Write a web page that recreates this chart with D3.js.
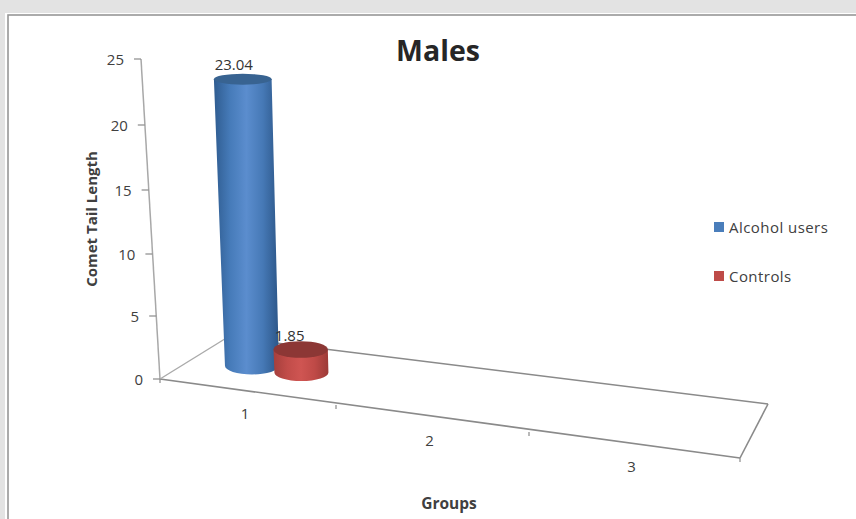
<!DOCTYPE html>
<html>
<head>
<meta charset="utf-8">
<script src="https://cdn.jsdelivr.net/npm/d3@7/dist/d3.min.js"></script>
<style>
  html, body { margin: 0; padding: 0; background: #e3e3e3; }
  svg { display: block; }
  text { font-family: "Open Sans", "DejaVu Sans", sans-serif; }
</style>
</head>
<body>
<svg id="chart" width="856" height="519"></svg>
<script>
// Chart content
const chartTitle = "Males";
const valueAxisTitle = "Comet Tail Length";
const groupAxisTitle = "Groups";
const groups = ["1", "2", "3"];
const valueTicks = [0, 5, 10, 15, 20, 25];
const seriesNames = ["Alcohol users", "Controls"];
const alcoholUsers = [23.04];
const controls = [1.85];

const svg = d3.select("#chart");

// Panel behind the chart
svg.append("rect").attr("x", 5).attr("y", 13).attr("width", 851).attr("height", 506).attr("fill", "#fff");
svg.append("rect").attr("x", 8).attr("y", 15).attr("width", 860).attr("height", 520)
  .attr("fill", "#fff").attr("stroke", "#979797").attr("stroke-width", 1.6);

// Perspective scales for the wall and the floor of the 3-D plot
const wallX = d3.scaleLinear().domain([0, 25]).range([160, 141]);
const wallY = d3.scaleLinear().domain(valueTicks).range([379, 316, 254, 190, 125, 59]);
const frontX = d3.scaleLinear().domain([0, 1, 2, 3]).range([160, 336, 529, 740]);
const frontY = d3.scaleLinear().domain([0, 1, 2, 3]).range([379, 405, 432, 458]);
const backX = d3.scaleLinear().domain([0, 1, 2, 3]).range([228, 393, 571, 768]);
const backY = d3.scaleLinear().domain([0, 1, 2, 3]).range([337, 357, 379, 404]);
const floorPoint = (u, depth) => [
  frontX(u) + depth * (backX(u) - frontX(u)),
  frontY(u) + depth * (backY(u) - frontY(u))
];

// Cylinder geometry as a function of value
const heightPx = d3.scaleLinear().domain([0, 25]).range([0, 311]);
const leanPx = d3.scaleLinear().domain([0, 25]).range([0, -10]);
const radiusX = d3.scaleLinear().domain([0, 25]).range([27, 29]);
const radiusY = d3.scaleLinear().domain([0, 25]).range([8.6, 5.2]);
const seriesSlot = d3.scaleLinear().domain([0, 1]).range([0.34, 0.63]);

const axisColor = "#8a8a8a";
const axisGroup = svg.append("g").attr("fill", "none").attr("stroke", axisColor);
const segment = d3.line();
const drawLine = (a, b, w) => axisGroup.append("path").attr("d", segment([a, b])).attr("stroke-width", w);

// Wall axis with its ticks
drawLine([wallX(0), wallY(0)], [wallX(25), wallY(25)], 1.5).attr("stroke", "#a8a8a8");
valueTicks.forEach(t => drawLine([wallX(t) - 7, wallY(t)], [wallX(t), wallY(t)], 1.2));

// Floor outline and group ticks
const corners = [[0, 0], [3, 0], [3, 1], [0, 1]].map(([u, d]) => floorPoint(u, d));
drawLine(corners[0], corners[1], 1.6);
drawLine(corners[1], corners[2], 1.6);
drawLine(corners[2], corners[3], 1.6);
drawLine(corners[3], corners[0], 1.4).attr("stroke", "#aaaaaa");
d3.range(0, 4).forEach(i => drawLine([frontX(i), frontY(i)], [frontX(i), frontY(i) + 4], 1.2));

// Horizontal shading for the cylinder sides
const defs = svg.append("defs");
const shades = [
  { id: "side0", stops: ["#2f5c90", "#467bb9", "#5b8dce", "#4679b6", "#2c5688"] },
  { id: "side1", stops: ["#a53f3c", "#c14c49", "#cf5552", "#bf4a47", "#9c3a37"] }
];
shades.forEach(s => {
  const g = defs.append("linearGradient").attr("id", s.id);
  s.stops.forEach((c, i) => g.append("stop")
    .attr("offset", (i / (s.stops.length - 1)) * 100 + "%").attr("stop-color", c));
});
const capColors = ["#386391", "#8c3735"];

// Cylinders, drawn in series order so the shorter one overlaps the taller
const seriesValues = [alcoholUsers, controls];
const labelOffset = [[-9, -15], [-11, -14]];
seriesValues.forEach((values, s) => {
  values.forEach((v, g) => {
    const [bx, by] = floorPoint(g + seriesSlot(s), 0.5);
    const tx = bx + leanPx(v);
    const ty = by - heightPx(v);
    const brx = radiusX(0), bry = radiusY(0), trx = radiusX(v), tryy = radiusY(v);
    const body = `M${tx - trx},${ty} L${bx - brx},${by} A${brx},${bry} 0 0 0 ${bx + brx},${by} L${tx + trx},${ty} Z`;
    svg.append("path").attr("d", body).attr("fill", `url(#side${s})`);
    svg.append("ellipse").attr("cx", tx).attr("cy", ty).attr("rx", trx).attr("ry", tryy).attr("fill", capColors[s]);
    svg.append("text").attr("x", tx + labelOffset[s][0]).attr("y", ty + labelOffset[s][1])
      .attr("text-anchor", "middle").attr("dominant-baseline", "central")
      .attr("font-size", 15).attr("fill", "#333").text(v);
  });
});

// Value tick labels
svg.append("g").selectAll("text").data(valueTicks).join("text")
  .attr("x", d => wallX(d) - 17).attr("y", d => wallY(d))
  .attr("text-anchor", "end").attr("dominant-baseline", "central")
  .attr("font-size", 15).attr("fill", "#404040").text(d => d);

// Group tick labels sit below the middle of each floor segment
svg.append("g").selectAll("text").data(groups).join("text")
  .attr("x", (d, i) => frontX(i + 0.5) - 3).attr("y", (d, i) => frontY(i + 0.5) + 21)
  .attr("text-anchor", "middle").attr("dominant-baseline", "central")
  .attr("font-size", 15).attr("fill", "#404040").text(d => d);

// Titles
svg.append("text").attr("x", 438).attr("y", 50).attr("text-anchor", "middle").attr("dominant-baseline", "central")
  .attr("font-size", 28.5).attr("font-weight", 700).attr("fill", "#262626").text(chartTitle);
svg.append("text").attr("transform", "translate(91,219) rotate(-90)").attr("text-anchor", "middle")
  .attr("dominant-baseline", "central").attr("font-size", 15).attr("font-weight", 700).attr("fill", "#404040").text(valueAxisTitle);
svg.append("text").attr("x", 449).attr("y", 503).attr("text-anchor", "middle").attr("dominant-baseline", "central")
  .attr("font-size", 15.5).attr("font-weight", 700).attr("fill", "#404040").text(groupAxisTitle);

// Legend
const legendColors = ["#4a7ebb", "#be4b48"];
const legendY = d3.scalePoint().domain(seriesNames).range([227, 276]);
const legend = svg.append("g").selectAll("g").data(seriesNames).join("g")
  .attr("transform", d => `translate(714,${legendY(d)})`);
legend.append("rect").attr("y", -5).attr("width", 10).attr("height", 10).attr("fill", (d, i) => legendColors[i]);
legend.append("text").attr("x", 15).attr("dominant-baseline", "central")
  .attr("font-size", 15).attr("letter-spacing", 0.45).attr("fill", "#404040").text(d => d);
</script>
</body>
</html>
